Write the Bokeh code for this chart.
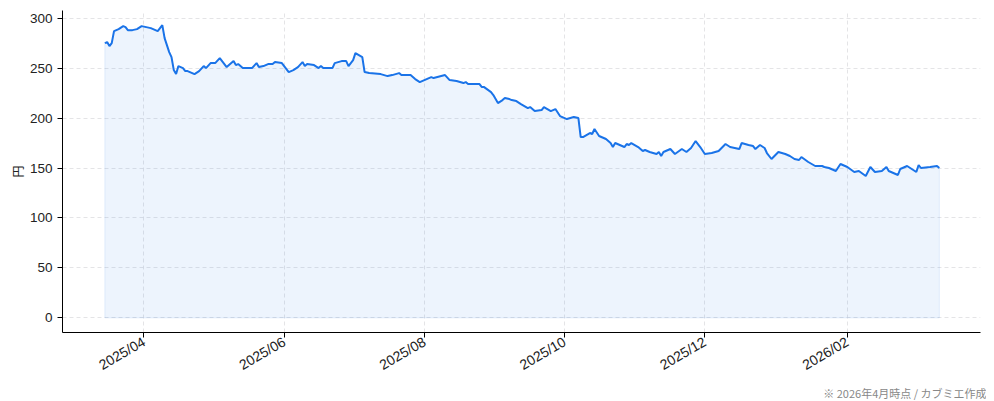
import math
from datetime import datetime
import pandas as pd
from bokeh.plotting import figure
from bokeh.models import Range1d, FixedTicker, DatetimeTickFormatter, Title, ColumnDataSource
from bokeh.embed import file_html
from bokeh.resources import INLINE

dates = [
    "2025-03-15", "2025-03-16", "2025-03-17", "2025-03-18", "2025-03-19", "2025-03-21", "2025-03-23", "2025-03-24",
    "2025-03-25", "2025-03-27", "2025-03-29", "2025-03-31",
    "2025-04-02", "2025-04-04", "2025-04-07", "2025-04-08", "2025-04-09", "2025-04-10", "2025-04-12", "2025-04-13",
    "2025-04-14", "2025-04-15", "2025-04-16", "2025-04-18", "2025-04-19", "2025-04-20", "2025-04-23", "2025-04-25",
    "2025-04-27", "2025-04-28", "2025-04-30",
    "2025-05-02", "2025-05-04", "2025-05-07", "2025-05-09", "2025-05-10", "2025-05-11", "2025-05-12", "2025-05-14",
    "2025-05-18", "2025-05-20", "2025-05-21", "2025-05-23", "2025-05-25", "2025-05-27", "2025-05-28", "2025-05-31",
    "2025-06-02", "2025-06-03", "2025-06-05", "2025-06-07", "2025-06-09", "2025-06-10", "2025-06-11", "2025-06-14",
    "2025-06-16", "2025-06-17", "2025-06-18", "2025-06-22", "2025-06-23", "2025-06-26", "2025-06-28", "2025-06-29",
    "2025-07-01", "2025-07-02", "2025-07-05", "2025-07-06", "2025-07-08", "2025-07-13", "2025-07-16", "2025-07-18",
    "2025-07-21", "2025-07-22", "2025-07-26", "2025-07-28", "2025-07-30",
    "2025-08-02", "2025-08-04", "2025-08-05", "2025-08-10", "2025-08-12", "2025-08-15", "2025-08-18", "2025-08-19",
    "2025-08-20", "2025-08-25", "2025-08-26", "2025-08-27", "2025-08-30", "2025-08-31",
    "2025-09-02", "2025-09-04", "2025-09-05", "2025-09-07", "2025-09-08", "2025-09-10", "2025-09-12", "2025-09-15",
    "2025-09-16", "2025-09-18", "2025-09-21", "2025-09-22", "2025-09-25", "2025-09-27", "2025-09-29",
    "2025-10-02", "2025-10-05", "2025-10-07", "2025-10-08", "2025-10-09", "2025-10-12", "2025-10-13", "2025-10-14",
    "2025-10-16", "2025-10-19", "2025-10-21", "2025-10-22", "2025-10-23", "2025-10-27", "2025-10-28", "2025-10-29",
    "2025-10-30",
    "2025-11-02", "2025-11-03", "2025-11-04", "2025-11-05", "2025-11-07", "2025-11-10", "2025-11-11", "2025-11-12",
    "2025-11-13", "2025-11-16", "2025-11-18", "2025-11-21", "2025-11-23", "2025-11-25", "2025-11-27", "2025-11-29",
    "2025-12-01", "2025-12-04", "2025-12-07", "2025-12-10", "2025-12-12", "2025-12-16", "2025-12-17", "2025-12-20",
    "2025-12-22", "2025-12-23", "2025-12-25", "2025-12-27", "2025-12-28", "2025-12-30",
    "2026-01-02", "2026-01-05", "2026-01-07", "2026-01-09", "2026-01-11", "2026-01-12", "2026-01-15", "2026-01-18",
    "2026-01-21", "2026-01-22", "2026-01-24", "2026-01-27", "2026-01-29",
    "2026-02-01", "2026-02-04", "2026-02-06", "2026-02-09", "2026-02-11", "2026-02-13", "2026-02-16", "2026-02-18",
    "2026-02-19", "2026-02-23", "2026-02-24", "2026-02-27",
    "2026-03-03", "2026-03-04", "2026-03-05", "2026-03-09", "2026-03-12", "2026-03-13",
]

prices = [
    275, 276, 272, 275, 287, 289, 292, 291, 288, 288, 289, 292,
    291, 290, 287, 290, 293, 280, 266, 261, 248, 244, 252, 250, 247, 247, 244, 247, 252, 250, 255,
    255, 260, 251, 255, 257, 253, 254, 250, 250, 255, 251, 252, 254, 254, 256, 255,
    249, 246, 248, 251, 256, 252, 254, 253, 250, 252, 250, 250, 255, 257, 257, 252,
    258, 265, 261, 246, 245, 244, 242, 243, 245, 243, 243, 239, 236,
    239, 241, 240, 243, 238, 237, 235, 236, 234, 234, 231, 231, 226, 223,
    215, 218, 220, 219, 218, 217, 214, 210, 211, 207, 208, 211, 207, 209, 202,
    199, 201, 200, 181, 181, 185, 184, 189, 182, 179, 175, 171, 175, 171, 174, 173, 175,
    171, 169, 167, 168, 166, 164, 166, 162, 166, 169, 164, 169, 166, 170, 177, 171,
    164, 165, 167, 174, 171, 169, 175, 173, 172, 169, 173, 170, 165, 159,
    166, 164, 162, 159, 158, 161, 156, 152, 152, 151, 150, 147, 154,
    151, 146, 147, 142, 151, 146, 147, 151, 147, 143, 149, 152,
    146, 153, 150, 151, 152, 150,
]

y_ticks = [0, 50, 100, 150, 200, 250, 300]
x_tick_dates = ["2025-04-01", "2025-06-01", "2025-08-01", "2025-10-01", "2025-12-01", "2026-02-01"]
y_label = "円"
footnote = "※ 2026年4月時点 / カブミエ作成"

FONT = "Noto Sans CJK JP"
NUMFONT = "Liberation Sans"
LINE = "#1a73e8"

dt = list(pd.to_datetime(dates))
src = ColumnDataSource(dict(date=dt, price=prices))
poly_x = [dt[0]] + dt + [dt[-1]]
poly_y = [0] + prices + [0]

p = figure(
    width=986, height=401, x_axis_type="datetime", output_backend="svg", toolbar_location=None,
    x_range=Range1d(datetime(2025, 2, 24, 14), datetime(2026, 3, 30, 22)),
    y_range=Range1d(-14.65, 307.65),
    min_border_left=62, min_border_right=6, min_border_top=10, min_border_bottom=69,
)
p.outline_line_color = None
p.background_fill_color = "white"
p.border_fill_color = "white"

p.patch(poly_x, poly_y, fill_color=LINE, fill_alpha=0.08, line_color=LINE, line_alpha=0.1, line_width=1)
p.line(x="date", y="price", source=src, line_color=LINE, line_width=2)

tick_ms = [pd.Timestamp(d).value / 1e6 for d in x_tick_dates]
p.xaxis.ticker = FixedTicker(ticks=tick_ms)
fmt = "%Y/%m"
p.xaxis.formatter = DatetimeTickFormatter(
    milliseconds=fmt, seconds=fmt, minsec=fmt, minutes=fmt, hourmin=fmt, hours=fmt,
    days=fmt, months=fmt, years=fmt)
p.xaxis.major_label_orientation = math.pi / 6
p.yaxis.ticker = FixedTicker(ticks=y_ticks)
p.yaxis.axis_label = y_label

for ax in (p.xaxis[0], p.yaxis[0]):
    ax.axis_line_color = "black"
    ax.axis_line_width = 1
    ax.major_tick_line_color = "black"
    ax.major_tick_out = 5
    ax.major_tick_in = 0
    ax.minor_tick_line_color = None
    ax.major_label_text_font = NUMFONT
    ax.major_label_text_font_size = "13.5px"
    ax.major_label_text_color = "#222222"
    ax.major_label_standoff = 5
p.xaxis.major_label_text_font_size = "14px"
p.xaxis.major_label_standoff = 3
p.yaxis.axis_label_text_font = FONT
p.yaxis.axis_label_text_font_size = "12px"
p.yaxis.axis_label_text_font_style = "normal"
p.yaxis.axis_label_text_color = "#222222"
p.yaxis.axis_label_standoff = 1

for g in (p.xgrid[0], p.ygrid[0]):
    g.grid_line_color = "#d8d8dc"
    g.grid_line_alpha = 0.7
    g.grid_line_dash = "4 3"
    g.grid_line_width = 1

p.add_layout(Title(text=footnote, align="right", text_font=FONT, text_font_size="11px",
                   text_line_height=0.8, text_color="#888888", text_font_style="normal",
                   standoff=0, offset=-6), "below")

open("out.html", "w").write(file_html(p, INLINE))
